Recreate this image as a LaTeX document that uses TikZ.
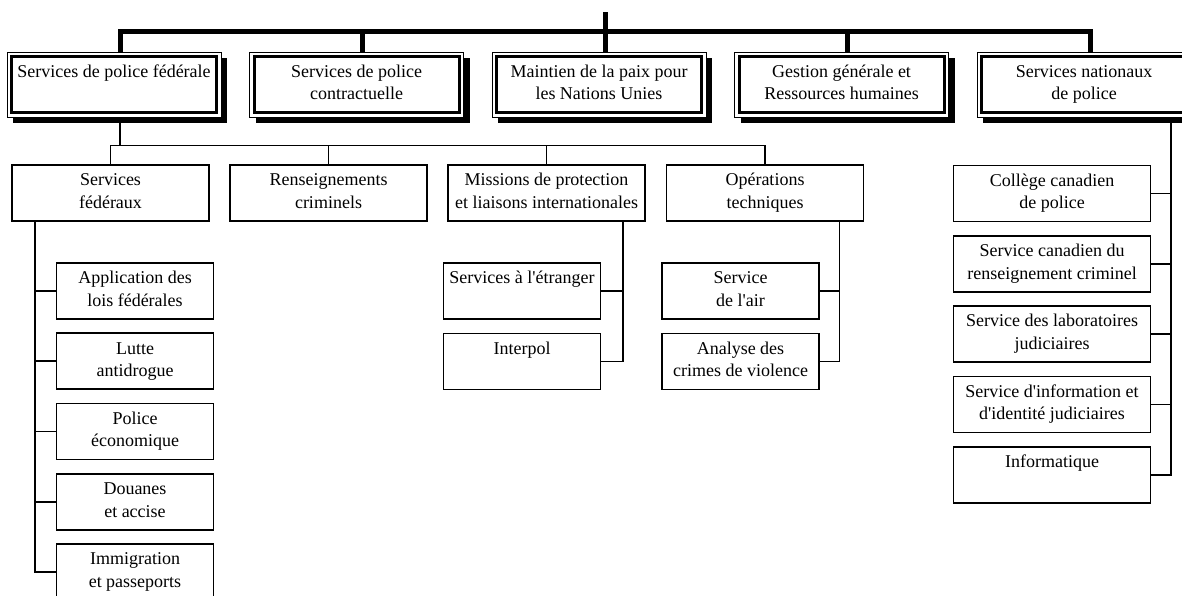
\documentclass[tikz,border=0pt]{standalone}
\usepackage{fontspec}
\setmainfont{Liberation Serif}[Ligatures=TeXOff]
\usetikzlibrary{shadows}
\newcommand{\boxstrut}{\rule[-2.4pt]{0pt}{8.85pt}}
\newcommand{\boxtext}[2]{\boxstrut#1\\\boxstrut#2}

\begin{document}
\begin{tikzpicture}[x=0.5pt,y=-0.5pt,font=\fontsize{9}{11.25}\selectfont,
  unit/.style={draw,line width=0.9pt,fill=white,align=center,inner sep=0pt,minimum height=28pt},
  wideunit/.style={unit,minimum width=98.5pt},
  subunit/.style={unit,minimum width=78.5pt},
  topunit/.style={draw,line width=0.5pt,fill=white,align=center,inner sep=0pt,
    minimum width=107pt,minimum height=32.5pt,
    drop shadow={opacity=1,fill=black,shadow xshift=3pt,shadow yshift=-3pt}},
  bar/.style={line width=2.5pt},
  link/.style={line width=0.9pt}]
\useasboundingbox (0,0) rectangle (1182,595);
% directions
\node[topunit] (fed) at (114,84.5) {\boxtext{Services de police fédérale}{}};
\node[topunit] (con) at (356.5,84.5) {\boxtext{Services de police}{contractuelle}};
\node[topunit] (onu) at (599,84.5) {\boxtext{Maintien de la paix pour}{les Nations Unies}};
\node[topunit] (ges) at (841.5,84.5) {\boxtext{Gestion générale et}{Ressources humaines}};
\node[topunit] (nat) at (1084,84.5) {\boxtext{Services nationaux}{de police}};
\foreach \n in {fed,con,onu,ges,nat}
  \draw[line width=1.5pt] ([shift={(2.5pt,2.5pt)}]\n.south west) rectangle ([shift={(-2.5pt,-2.5pt)}]\n.north east);
% police federale
\node[wideunit] (sf) at (110.5,193) {\boxtext{Services}{fédéraux}};
\node[wideunit] (rc) at (328.5,193) {\boxtext{Renseignements}{criminels}};
\node[wideunit] (mp) at (546.5,193) {\boxtext{Missions de protection}{et liaisons internationales}};
\node[wideunit] (ot) at (765,193) {\boxtext{Opérations}{techniques}};
\node[subunit] (app) at (135,291) {\boxtext{Application des}{lois fédérales}};
\node[subunit] (lut) at (135,361.25) {\boxtext{Lutte}{antidrogue}};
\node[subunit] (pol) at (135,431.5) {\boxtext{Police}{économique}};
\node[subunit] (dou) at (135,501.75) {\boxtext{Douanes}{et accise}};
\node[subunit] (imm) at (135,572) {\boxtext{Immigration}{et passeports}};
\node[subunit] (etr) at (522,291) {\boxtext{Services à l'étranger}{}};
\node[subunit] (itp) at (522,361.5) {\boxtext{Interpol}{}};
\node[subunit] (air) at (740.5,291) {\boxtext{Service}{de l'air}};
\node[subunit] (acv) at (740.5,361.5) {\boxtext{Analyse des}{crimes de violence}};
% services nationaux
\node[wideunit] (ccp) at (1052,193.5) {\boxtext{Collège canadien}{de police}};
\node[wideunit] (scr) at (1052,264) {\boxtext{Service canadien du}{renseignement criminel}};
\node[wideunit] (slj) at (1052,334) {\boxtext{Service des laboratoires}{judiciaires}};
\node[wideunit] (sij) at (1052,404.5) {\boxtext{Service d'information et}{d'identité judiciaires}};
\node[wideunit] (inf) at (1052,475) {\boxtext{Informatique}{}};
% top bar
\draw[bar] ([xshift=3pt]fed.north) -- ++(0,-20.5) -| ([xshift=3pt]nat.north);
\foreach \n in {con,ges}
  \draw[bar] ([xshift=3pt]\n.north) -- ++(0,-20.5);
\draw[bar] ([xshift=3pt]onu.north) -- ++(0,-40);
% second level
\draw[link] ([xshift=3pt]fed.south) -- ++(0,28) coordinate (hub);
\draw[link] (sf.north) |- (hub) -| (ot.north);
\foreach \n in {rc,mp}
  \draw[link] (\n.north) -- (\n.north |- hub);
% branches
\coordinate (sfb) at ([xshift=12pt]sf.south west);
\draw[link] (sfb) |- (imm.west);
\foreach \n in {app,lut,pol,dou}
  \draw[link] (\n.west) -- (\n.west -| sfb);
\coordinate (mpb) at ([xshift=-11.5pt]mp.south east);
\draw[link] (mpb) |- (itp.east);
\draw[link] (etr.east) -- (etr.east -| mpb);
\coordinate (otb) at ([xshift=-12.5pt]ot.south east);
\draw[link] (otb) |- (acv.east);
\draw[link] (air.east) -- (air.east -| otb);
\coordinate (natb) at ([xshift=43.5pt]nat.south);
\draw[link] (natb) |- (inf.east);
\foreach \n in {ccp,scr,slj,sij}
  \draw[link] (\n.east) -- (\n.east -| natb);
\end{tikzpicture}
\end{document}
